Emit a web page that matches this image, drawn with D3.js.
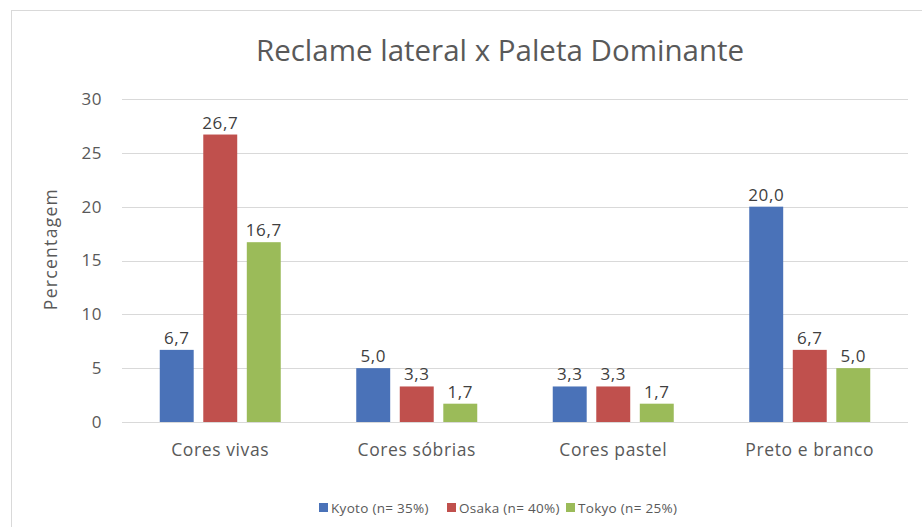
<!DOCTYPE html>
<html>
<head>
<meta charset="utf-8">
<script src="https://cdn.jsdelivr.net/npm/d3@7"></script>
<style>
  body { margin: 0; background: #fff; }
  svg text { font-family: "Open Sans", Lato, sans-serif; fill: #595959; }
</style>
</head>
<body>
<svg id="chart" width="922" height="527"></svg>
<script>
// chart data
var categories = ['Cores vivas', 'Cores sóbrias', 'Cores pastel', 'Preto e branco'];
var seriesNames = ['Kyoto (n= 35%)', 'Osaka (n= 40%)', 'Tokyo (n= 25%)'];
var kyoto = [6.7, 5.0, 3.3, 20.0];
var osaka = [26.7, 3.3, 3.3, 6.7];
var tokyo = [16.7, 1.7, 1.7, 5.0];
var yTicks = [0, 5, 10, 15, 20, 25, 30];
var colors = ['#4a72b8', '#c0504d', '#9bbb59'];

var series = [kyoto, osaka, tokyo];

var svg = d3.select('#chart');

// chart frame
svg.append('rect')
    .attr('x', 11.5).attr('y', 10.5)
    .attr('width', 1000).attr('height', 600)
    .attr('fill', 'none')
    .attr('stroke', '#d9d9d9');

var plot = { left: 122, right: 908, top: 99, bottom: 422 };

var x = d3.scaleBand()
    .domain(categories)
    .range([plot.left, plot.right]);

var groupWidth = 121;
var xInner = d3.scaleBand()
    .domain(d3.range(series.length))
    .range([0, groupWidth])
    .paddingInner(0.22);

var y = d3.scaleLinear()
    .domain([0, 30])
    .range([plot.bottom, plot.top]);

// gridlines
svg.append('g')
    .selectAll('line')
    .data(yTicks)
    .join('line')
    .attr('x1', plot.left).attr('x2', plot.right)
    .attr('y1', function (d) { return Math.round(y(d)) + 0.5; })
    .attr('y2', function (d) { return Math.round(y(d)) + 0.5; })
    .attr('stroke', '#d9d9d9')
    .attr('stroke-width', 1);

// y tick labels
svg.append('g')
    .selectAll('text')
    .data(yTicks)
    .join('text')
    .attr('x', 102)
    .attr('y', function (d) { return y(d); })
    .attr('dy', '0.35em')
    .attr('text-anchor', 'end')
    .style('font-size', '17px')
    .style('letter-spacing', '0.5px')
    .text(function (d) { return d; });

// y axis title
svg.append('text')
    .attr('transform', 'translate(57,249) rotate(-90)')
    .attr('text-anchor', 'middle')
    .style('font-size', '17.5px')
    .style('letter-spacing', '1.3px')
    .text('Percentagem');

// bars
var groups = svg.append('g')
    .selectAll('g')
    .data(categories)
    .join('g')
    .attr('transform', function (d) {
        return 'translate(' + (x(d) + x.bandwidth() / 2 - groupWidth / 2) + ',0)';
    });

var fmt = function (v) { return v.toFixed(1).replace('.', ','); };

groups.selectAll('rect')
    .data(function (d, ci) { return series.map(function (s, si) { return { si: si, v: s[ci] }; }); })
    .join('rect')
    .attr('x', function (d) { return xInner(d.si); })
    .attr('width', xInner.bandwidth())
    .attr('y', function (d) { return y(d.v); })
    .attr('height', function (d) { return y(0) - y(d.v); })
    .attr('fill', function (d) { return colors[d.si]; });

groups.selectAll('text')
    .data(function (d, ci) { return series.map(function (s, si) { return { si: si, v: s[ci] }; }); })
    .join('text')
    .attr('x', function (d) { return xInner(d.si) + xInner.bandwidth() / 2; })
    .attr('y', function (d) { return y(d.v) - 6; })
    .attr('text-anchor', 'middle')
    .style('font-size', '17px')
    .style('letter-spacing', '0.6px')
    .style('fill', '#404040')
    .text(function (d) { return fmt(d.v); });

// category labels
svg.append('g')
    .selectAll('text')
    .data(categories)
    .join('text')
    .attr('x', function (d) { return x(d) + x.bandwidth() / 2; })
    .attr('y', 456)
    .attr('text-anchor', 'middle')
    .style('font-size', '17.5px')
    .style('letter-spacing', '0.6px')
    .text(function (d) { return d; });

// title
svg.append('text')
    .attr('x', 500)
    .attr('y', 61)
    .attr('text-anchor', 'middle')
    .style('font-size', '29.5px')
    .text('Reclame lateral x Paleta Dominante');

// legend
var legendX = [319, 447, 566];
var legend = svg.append('g')
    .selectAll('g')
    .data(seriesNames)
    .join('g')
    .attr('transform', function (d, i) { return 'translate(' + legendX[i] + ',508)'; });

legend.append('rect')
    .attr('x', 0).attr('y', -5)
    .attr('width', 9).attr('height', 9)
    .attr('fill', function (d, i) { return colors[i]; });

legend.append('text')
    .attr('x', 12)
    .attr('y', 0)
    .attr('dy', '0.35em')
    .style('font-size', '13.5px')
    .style('letter-spacing', '0.3px')
    .text(function (d) { return d; });
</script>
</body>
</html>
